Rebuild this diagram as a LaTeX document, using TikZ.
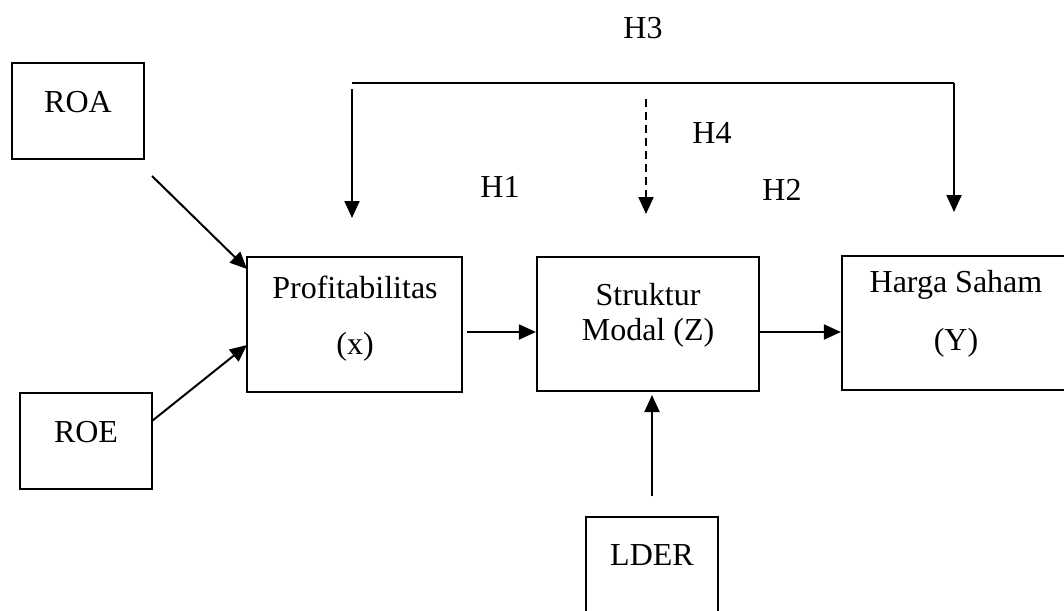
\documentclass[tikz,border=0pt]{standalone}
\usepackage{fontspec}
\setmainfont{Liberation Serif}
\usetikzlibrary{arrows.meta}
\begin{document}
\begin{tikzpicture}[x=1pt,y=-1pt,
  box/.style={draw,line width=2.2pt,rectangle,inner sep=0pt},
  lbl/.style={inner sep=0pt,font=\fontsize{32}{38}\selectfont},
  arr/.style={line width=2pt,-{Triangle[length=17pt,width=15pt]}},
  thin/.style={line width=1.4pt}]
\useasboundingbox (0,0) rectangle (1064,610);
% boxes
\node[box,minimum width=132pt,minimum height=96pt] (roa) at (78,111) {};
\node[box,minimum width=132pt,minimum height=96pt] (roe) at (86,441) {};
\node[box,minimum width=215pt,minimum height=135pt] (prof) at (354.5,324.5) {};
\node[box,minimum width=222pt,minimum height=134pt] (struk) at (648,324) {};
\node[box,minimum width=226pt,minimum height=134pt] (harga) at (955,323) {};
\node[box,minimum width=132pt,minimum height=96pt] (lder) at (652,565) {};
% texts
\node[lbl] (troa) at (78,102) {ROA};
\node[lbl] (troe) at (86,432) {ROE};
\node[lbl] (tprof1) at (355,287) {Profitabilitas};
\node[lbl] (tprof2) at (355,347) {(x)};
\node[lbl] (tstruk1) at (648,295) {Struktur};
\node[lbl] (tstruk2) at (648,333) {Modal (Z)};
\node[lbl] (tharga1) at (956,285) {Harga Saham};
\node[lbl] (tharga2) at (956,343) {(Y)};
\node[lbl] (tlder) at (652,555) {LDER};
\node[lbl] (h1) at (500,187) {H1};
\node[lbl] (h2) at (782,190) {H2};
\node[lbl] (h3) at (643,28) {H3};
\node[lbl] (h4) at (712,133) {H4};
% connector coordinates
\coordinate (roaS) at (152,176);
\coordinate (roaE) at (247,269);
\coordinate (roeS) at (152,421);
\coordinate (roeE) at (247,345);
\coordinate (profS) at (467,332);
\coordinate (lderS) at (652,496);
\coordinate (lderE) at (652,395);
\coordinate (h3L) at (352,83);
\coordinate (h3R) at (954,83);
\coordinate (h3Ls) at (352,89);
\coordinate (h3Le) at (352,218);
\coordinate (h3Re) at (954,212);
\coordinate (h4s) at (646,99);
\coordinate (h4e) at (646,214);
% connectors
\draw[arr] (roaS) -- (roaE);
\draw[arr] (roeS) -- (roeE);
\draw[arr] (profS) -- (struk.west |- profS);
\draw[arr] (struk.east |- profS) -- (harga.west |- profS);
\draw[arr] (lderS) -- (lderE);
\draw[thin] (h3L) -- (h3R);
\draw[arr] (h3R) -- (h3Re);
\draw[arr] (h3Ls) -- (h3Le);
\draw[arr,dash pattern=on 8pt off 5pt] (h4s) -- (h4e);
\end{tikzpicture}
\end{document}
